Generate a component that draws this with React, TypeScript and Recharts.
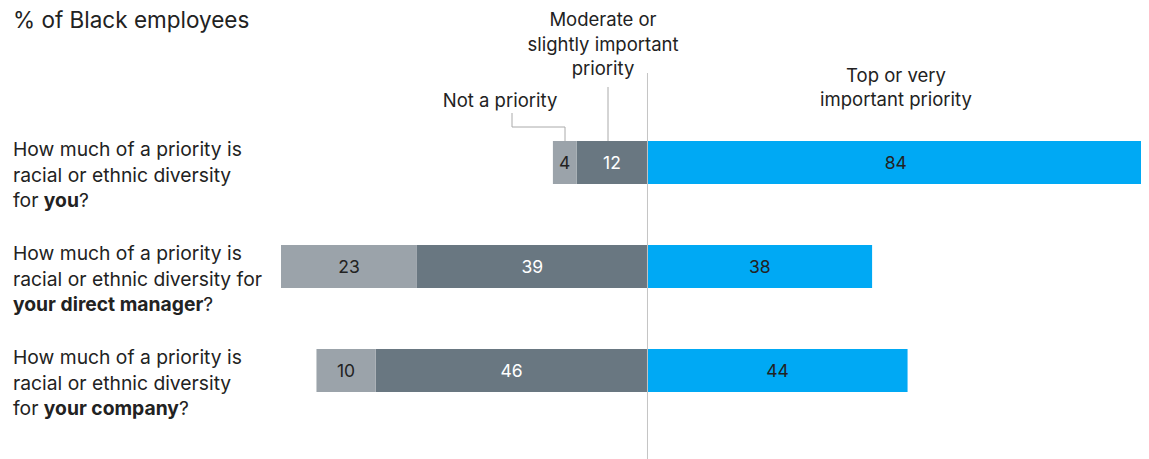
import { BarChart, Bar, XAxis, YAxis, ReferenceLine, LabelList } from 'recharts';

const questions = ['you', 'your direct manager', 'your company'];
const secondLine = ['racial or ethnic diversity', 'racial or ethnic diversity for', 'racial or ethnic diversity'];
const thirdPrefix = ['for ', '', 'for '];
const notPriority = [4, 23, 10];
const moderate = [12, 39, 46];
const topPriority = [84, 38, 44];

const FONT = 'Inter, "DejaVu Sans", sans-serif';
const TEXT = '#222';

// left side values are negative so they stack leftwards from zero
const data = questions.map((q, i) => ({
  q,
  notPriority: -notPriority[i],
  moderate: -moderate[i],
  top: topPriority[i],
}));

const QuestionTick = ({ y, payload }: any) => {
  const i = questions.indexOf(payload.value);
  const base = y - 6;
  return (
    <g fill={TEXT} fontSize={19.3} fontFamily={FONT}>
      <text x={5} y={base}>How much of a priority is</text>
      <text x={5} y={base + 25.5}>{secondLine[i]}</text>
      <text x={5} y={base + 51}>
        {thirdPrefix[i]}
        <tspan fontWeight="bold">{payload.value}</tspan>?
      </text>
    </g>
  );
};

const fmt = (v: any) => Math.abs(Number(v));

const App = () => {
  return (
    <div style={{ position: 'relative', width: 1141, height: 451, fontFamily: FONT }}>
      <BarChart
        width={1141}
        height={451}
        data={data}
        layout="vertical"
        stackOffset="sign"
        margin={{ top: 65, right: 5, bottom: 0, left: 0 }}
      >
        <XAxis type="number" domain={[-62, 84]} allowDataOverflow hide />
        <YAxis
          type="category"
          dataKey="q"
          width={273}
          axisLine={false}
          tickLine={false}
          padding={{ top: 37, bottom: 37 }}
          tick={<QuestionTick />}
        />
        <Bar dataKey="moderate" stackId="a" fill="#697781" barSize={43} isAnimationActive={false}>
          <LabelList dataKey="moderate" position="center" formatter={fmt} fill="#fff" fontSize={17.5} fontFamily={FONT} />
        </Bar>
        <Bar dataKey="notPriority" stackId="a" fill="#9ba3aa" barSize={43} isAnimationActive={false}>
          <LabelList dataKey="notPriority" position="center" formatter={fmt} fill={TEXT} fontSize={17.5} fontFamily={FONT} />
        </Bar>
        <Bar dataKey="top" stackId="a" fill="#00a9f4" barSize={43} isAnimationActive={false}>
          <LabelList dataKey="top" position="center" formatter={fmt} fill={TEXT} fontSize={17.5} fontFamily={FONT} />
        </Bar>
        <ReferenceLine x={0} stroke="#c4c4c4" strokeWidth={1} />
      </BarChart>
      {/* header annotations, drawn in page coordinates */}
      <svg
        width={1149}
        height={459}
        style={{ position: 'absolute', left: -8, top: -8, pointerEvents: 'none' }}
      >
        <text x={13} y={28} fontSize={22.5} fill={TEXT} fontFamily={FONT}>% of Black employees</text>
        <g fontSize={18.5} fill={TEXT} fontFamily={FONT} textAnchor="middle">
          <text x={603} y={26}>Moderate or</text>
          <text x={603} y={51}>slightly important</text>
          <text x={603} y={75}>priority</text>
          <text x={500} y={107}>Not a priority</text>
          <text x={896} y={82}>Top or very</text>
          <text x={896} y={106}>important priority</text>
        </g>
        <polyline points="512,113 512,127 565,127 565,141" fill="none" stroke="#aaa" strokeWidth={1} />
        <line x1={608} y1={87} x2={608} y2={141} stroke="#aaa" strokeWidth={1} />
      </svg>
    </div>
  );
};

export default App;
